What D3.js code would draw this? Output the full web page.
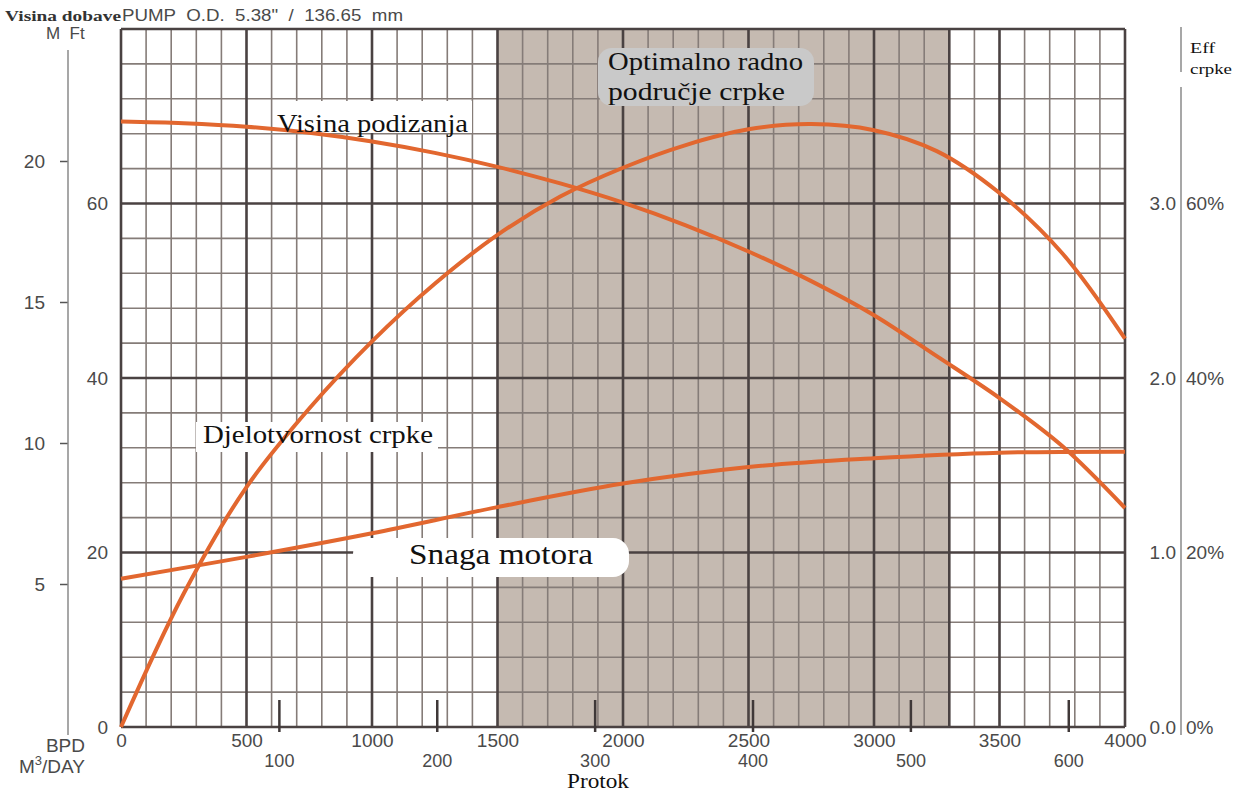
<!DOCTYPE html>
<html>
<head>
<meta charset="utf-8">
<script src="https://cdn.jsdelivr.net/npm/d3@7"></script>
<style>
  body { margin: 0; background: #fff; }
  svg { display: block; }
  .tick text { font-family: "Liberation Sans", Arial, sans-serif; fill: #4a4a4a; }
  .serif { font-family: "Liberation Serif", "Times New Roman", serif; fill: #111; }
</style>
</head>
<body>
<div id="chart"></div>
<script>
// flow in BPD
var flowBpd = [0, 250, 500, 750, 1000, 1250, 1500, 1750, 2000, 2250, 2500, 2750, 3000, 3250, 3500, 3750, 4000];
// head (ft)
var headFt = [69.4, 69.2, 68.8, 68.1, 67.1, 65.8, 64.2, 62.3, 60.1, 57.5, 54.5, 51.1, 47.2, 42.5, 37.7, 32.2, 25.1];
// pump efficiency (%)
var effPct = [0, 15.3, 27.5, 36.5, 44.2, 50.8, 56.4, 60.8, 64.1, 66.7, 68.5, 69.1, 68.4, 66.0, 61.2, 54.3, 44.5];
// motor power
var powerFlow = [0, 500, 1000, 1500, 2000, 2500, 3000, 3500, 4000];
var powerHp = [0.85, 0.975, 1.11, 1.26, 1.395, 1.49, 1.54, 1.572, 1.578];

var bpdTicks = [0, 500, 1000, 1500, 2000, 2500, 3000, 3500, 4000];
var m3Ticks = [100, 200, 300, 400, 500, 600];
var ftTicks = [0, 20, 40, 60];
var meterTicks = [5, 10, 15, 20];
var powerTicks = [0, 1, 2, 3];
var effTicks = [0, 20, 40, 60];
var optimalRange = [1500, 3300];

var width = 1247,
    height = 792;

var svg = d3.select("#chart").append("svg")
    .attr("width", width)
    .attr("height", height);

var x = d3.scaleLinear().domain([0, 4000]).range([121, 1125]);
var xM3 = d3.scaleLinear().domain([0, 4000 / 6.29]).range([121, 1125]);
var yFt = d3.scaleLinear().domain([0, 80]).range([727, 29]);
var yM = d3.scaleLinear().domain([0, 20]).range([725, 161]);
var yPow = d3.scaleLinear().domain([0, 4]).range([727, 29]);
var yEff = d3.scaleLinear().domain([0, 80]).range([727, 29]);

// shaded optimal zone
svg.append("rect")
    .attr("x", x(optimalRange[0]))
    .attr("y", yFt(80))
    .attr("width", x(optimalRange[1]) - x(optimalRange[0]))
    .attr("height", yFt(0) - yFt(80))
    .attr("fill", "#c5bab1");

// GRID
var grid = svg.append("g");
var vLines = d3.range(0, 4001, 100);
var hLines = d3.range(0, 81, 4);

grid.selectAll(".vminor")
    .data(vLines.filter(function(d) { return d % 500 != 0 && d != optimalRange[1]; }))
  .enter().append("line")
    .attr("x1", function(d) { return x(d); })
    .attr("x2", function(d) { return x(d); })
    .attr("y1", yFt(80))
    .attr("y2", yFt(0))
    .attr("stroke", "#857c78")
    .attr("stroke-width", 1.6);

grid.selectAll(".hminor")
    .data(hLines.filter(function(d) { return d % 20 != 0; }))
  .enter().append("line")
    .attr("x1", x(0))
    .attr("x2", x(4000))
    .attr("y1", function(d) { return yFt(d); })
    .attr("y2", function(d) { return yFt(d); })
    .attr("stroke", "#857c78")
    .attr("stroke-width", 1.6);

grid.selectAll(".vmajor")
    .data(bpdTicks.concat([optimalRange[1]]))
  .enter().append("line")
    .attr("x1", function(d) { return x(d); })
    .attr("x2", function(d) { return x(d); })
    .attr("y1", yFt(80))
    .attr("y2", yFt(0))
    .attr("stroke", "#4a4242")
    .attr("stroke-width", 2.6);

grid.selectAll(".hmajor")
    .data([0, 20, 40, 60, 80])
  .enter().append("line")
    .attr("x1", x(0))
    .attr("x2", x(4000))
    .attr("y1", function(d) { return yFt(d); })
    .attr("y2", function(d) { return yFt(d); })
    .attr("stroke", "#4a4242")
    .attr("stroke-width", 2.6);

// white patches behind the curve labels
svg.append("rect").attr("x", 275).attr("y", 101).attr("width", 197).attr("height", 32).attr("fill", "#fff");
svg.append("rect").attr("x", 196).attr("y", 422).attr("width", 242).attr("height", 30).attr("fill", "#fff");
svg.append("rect").attr("x", 353).attr("y", 538).attr("width", 276).attr("height", 39)
    .attr("rx", 16).attr("fill", "#fff");
svg.append("rect").attr("x", 598).attr("y", 48).attr("width", 216).attr("height", 58)
    .attr("rx", 14).attr("fill", "#c9c9c9");

// CURVES
var orange = "#e2672f";
var line = d3.line().curve(d3.curveCatmullRom.alpha(0.5));

svg.append("path")
    .attr("d", line(flowBpd.map(function(d, i) { return [x(d), yFt(headFt[i])]; })))
    .attr("fill", "none").attr("stroke", orange).attr("stroke-width", 4);

svg.append("path")
    .attr("d", line(flowBpd.map(function(d, i) { return [x(d), yEff(effPct[i])]; })))
    .attr("fill", "none").attr("stroke", orange).attr("stroke-width", 4);

svg.append("path")
    .attr("d", line(powerFlow.map(function(d, i) { return [x(d), yPow(powerHp[i])]; })))
    .attr("fill", "none").attr("stroke", orange).attr("stroke-width", 4);

// AXES
function styleAxis(g, size) {
  g.select(".domain").remove();
  g.selectAll(".tick text").style("font-size", size + "px");
  g.selectAll(".tick line").attr("stroke", "#555").attr("stroke-width", 1.5);
}

svg.append("g")
    .attr("transform", "translate(121,0)")
    .call(d3.axisLeft(yFt).tickValues(ftTicks).tickSize(0).tickPadding(13))
    .call(styleAxis, 19);

svg.append("g")
    .attr("transform", "translate(68,0)")
    .call(d3.axisLeft(yM).tickValues(meterTicks).tickSize(8).tickPadding(15))
    .call(styleAxis, 19);
svg.append("line").attr("x1", 68).attr("x2", 68).attr("y1", 50).attr("y2", 735)
    .attr("stroke", "#8a8a8a").attr("stroke-width", 1.5);

svg.append("g")
    .attr("transform", "translate(1181,0)")
    .call(d3.axisLeft(yPow).tickValues(powerTicks).tickSize(0).tickPadding(5)
      .tickFormat(d3.format(".1f")))
    .call(styleAxis, 19);

svg.append("g")
    .attr("transform", "translate(1181,0)")
    .call(d3.axisRight(yEff).tickValues(effTicks).tickSize(0).tickPadding(5)
      .tickFormat(function(d) { return d + "%"; }))
    .call(styleAxis, 19);

svg.append("line").attr("x1", 1181).attr("x2", 1181).attr("y1", 27).attr("y2", 72)
    .attr("stroke", "#8a8a8a").attr("stroke-width", 1.5);
svg.append("line").attr("x1", 1181).attr("x2", 1181).attr("y1", 87).attr("y2", 735)
    .attr("stroke", "#8a8a8a").attr("stroke-width", 1.5);

svg.append("g")
    .attr("transform", "translate(0,727)")
    .call(d3.axisBottom(x).tickValues(bpdTicks).tickSize(0).tickPadding(7)
      .tickFormat(d3.format("d")))
    .call(styleAxis, 19);

svg.append("g")
    .attr("transform", "translate(0,700)")
    .call(d3.axisBottom(xM3).tickValues(m3Ticks).tickSize(32).tickPadding(22))
    .call(styleAxis, 18)
    .selectAll(".tick line").attr("stroke", "#3f3838").attr("stroke-width", 2.5);

// TEXTS
var sans = "Liberation Sans, Arial, sans-serif";

svg.append("text").attr("class", "serif")
    .attr("x", 5).attr("y", 21)
    .attr("textLength", 116).attr("lengthAdjust", "spacingAndGlyphs")
    .style("font-size", "15px").style("font-weight", "bold").style("fill", "#333")
    .text("Visina dobave");

svg.append("text")
    .attr("x", 122).attr("y", 21)
    .attr("textLength", 281).attr("lengthAdjust", "spacingAndGlyphs")
    .style("font-family", sans).style("font-size", "17px").style("fill", "#4a4a4a")
    .style("white-space", "pre")
    .text("PUMP  O.D.  5.38\"  /  136.65  mm");

svg.append("text")
    .attr("x", 46).attr("y", 39)
    .style("font-family", sans).style("font-size", "17px").style("fill", "#4a4a4a")
    .style("white-space", "pre")
    .text("M  Ft");

svg.append("text").attr("class", "serif")
    .attr("x", 1190).attr("y", 53)
    .attr("textLength", 25).attr("lengthAdjust", "spacingAndGlyphs")
    .style("font-size", "15px")
    .text("Eff");
svg.append("text").attr("class", "serif")
    .attr("x", 1190).attr("y", 74)
    .attr("textLength", 42).attr("lengthAdjust", "spacingAndGlyphs")
    .style("font-size", "15px")
    .text("crpke");

svg.append("text")
    .attr("x", 85).attr("y", 752).attr("text-anchor", "end")
    .style("font-family", sans).style("font-size", "19px").style("fill", "#4a4a4a")
    .text("BPD");
var m3Label = svg.append("text")
    .attr("x", 85).attr("y", 773).attr("text-anchor", "end")
    .style("font-family", sans).style("font-size", "19px").style("fill", "#4a4a4a");
m3Label.append("tspan").text("M");
m3Label.append("tspan").attr("dy", -8).style("font-size", "13px").text("3");
m3Label.append("tspan").attr("dy", 8).text("/DAY");

svg.append("text").attr("class", "serif")
    .attr("x", 598).attr("y", 788).attr("text-anchor", "middle")
    .attr("textLength", 62).attr("lengthAdjust", "spacingAndGlyphs")
    .style("font-size", "20px")
    .text("Protok");

svg.append("text").attr("class", "serif")
    .attr("x", 277).attr("y", 132)
    .attr("textLength", 191).attr("lengthAdjust", "spacingAndGlyphs")
    .style("font-size", "26px")
    .text("Visina podizanja");

svg.append("text").attr("class", "serif")
    .attr("x", 203).attr("y", 443)
    .attr("textLength", 230).attr("lengthAdjust", "spacingAndGlyphs")
    .style("font-size", "26px")
    .text("Djelotvornost crpke");

svg.append("text").attr("class", "serif")
    .attr("x", 409).attr("y", 564)
    .attr("textLength", 184).attr("lengthAdjust", "spacingAndGlyphs")
    .style("font-size", "30px")
    .text("Snaga motora");

svg.append("text").attr("class", "serif")
    .attr("x", 608).attr("y", 70)
    .attr("textLength", 195).attr("lengthAdjust", "spacingAndGlyphs")
    .style("font-size", "26px")
    .text("Optimalno radno");
svg.append("text").attr("class", "serif")
    .attr("x", 608).attr("y", 100)
    .attr("textLength", 177).attr("lengthAdjust", "spacingAndGlyphs")
    .style("font-size", "26px")
    .text("područje crpke");
</script>
</body>
</html>
